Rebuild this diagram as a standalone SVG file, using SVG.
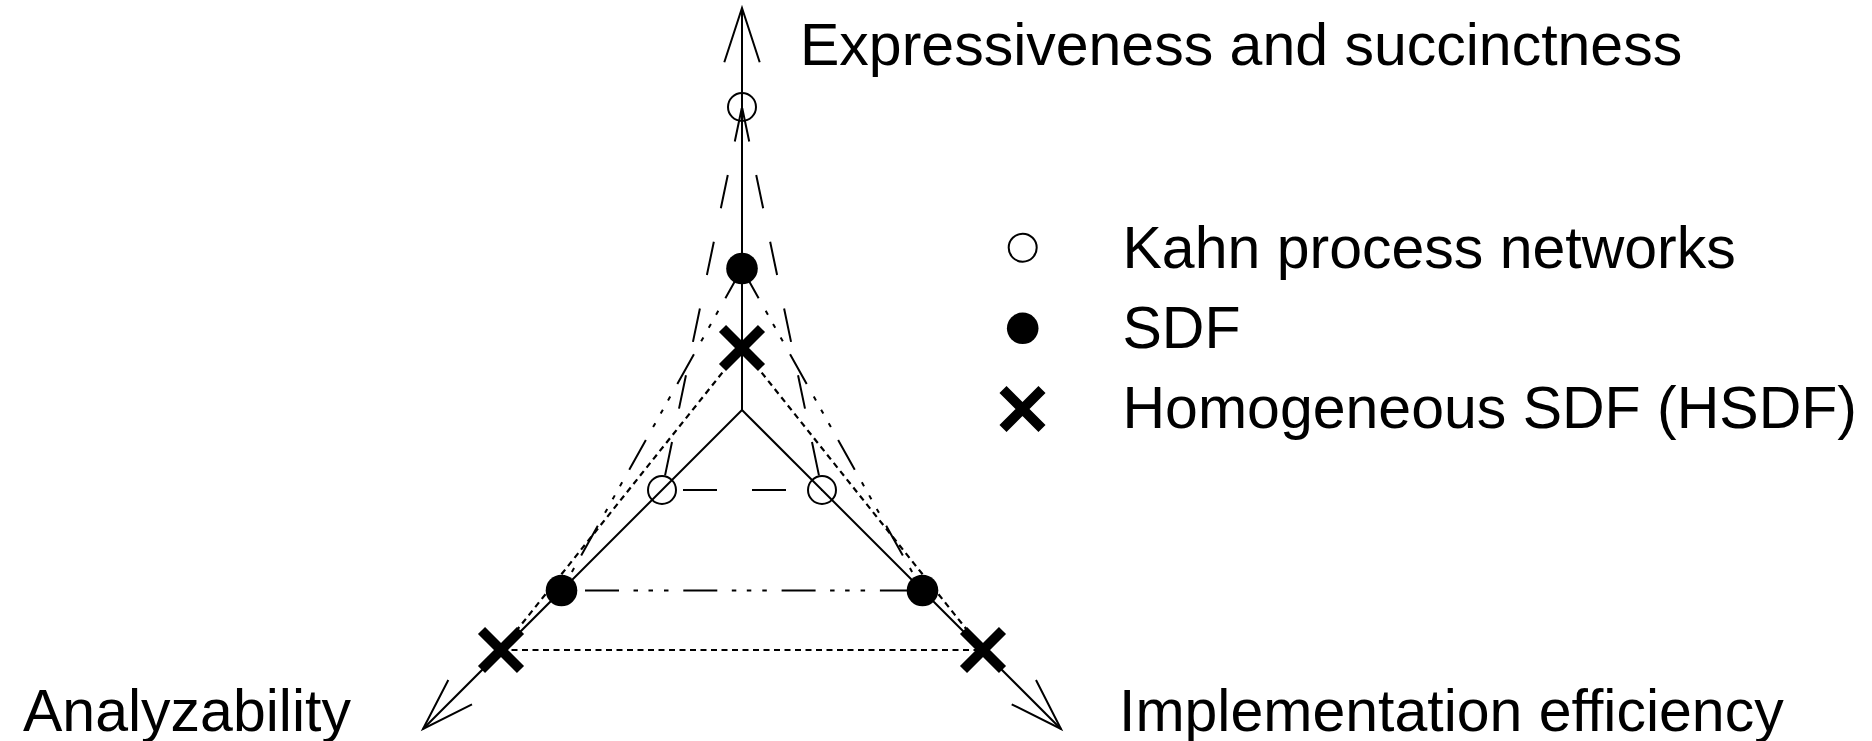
<svg xmlns="http://www.w3.org/2000/svg" width="1872" height="741" viewBox="0 0 1872 741">
<style>
.ax{stroke:#000;stroke-width:2;fill:none}
.kahn{stroke:#000;stroke-width:2;fill:none;stroke-dasharray:34 34.2}
.sdf{stroke:#000;stroke-width:2;fill:none;stroke-dasharray:34 14.5 4.5 10.5 4.5 11 4.5 14.8}
.hsdf{stroke:#000;stroke-width:2.2;fill:none;stroke-dasharray:6 4.5}
.oc{stroke:#000;stroke-width:2;fill:none}
.fc{fill:#000}
.xm{stroke:#000;stroke-width:10;stroke-linecap:butt;fill:none}
text{font-family:"Liberation Sans",Arial,sans-serif;font-size:59px;fill:#000}
</style>
<rect width="1872" height="741" fill="#fff"/>
<g id="axes">
<line class="ax" x1="742" y1="410" x2="742" y2="8"/>
<line class="ax" x1="742" y1="410" x2="423" y2="729"/>
<line class="ax" x1="742" y1="410" x2="1061" y2="729"/>
<polyline class="ax" points="724.3,62.3 742,8 759.7,62.3"/>
<polyline class="ax" points="448.3,680 423,729 472,704.3"/>
<polyline class="ax" points="1011.7,704.3 1061,729 1036,680"/>
</g>
<g id="connectors">
<line class="kahn" x1="742" y1="107" x2="662" y2="490" stroke-dashoffset="-1.3"/>
<line class="kahn" x1="742" y1="107" x2="822" y2="490" stroke-dashoffset="-1.3"/>
<line class="kahn" x1="662" y1="490" x2="822" y2="490" style="stroke-dasharray:34 35" stroke-dashoffset="-21"/>
<line class="sdf" x1="742" y1="268.5" x2="561.5" y2="590.5"/>
<line class="sdf" x1="742" y1="268.5" x2="922.5" y2="590.5"/>
<line class="sdf" x1="561.5" y1="590.5" x2="922.5" y2="590.5" stroke-dashoffset="-23.5"/>
<line class="hsdf" x1="742" y1="348" x2="501" y2="650"/>
<line class="hsdf" x1="742" y1="348" x2="983" y2="650"/>
<line class="hsdf" x1="501" y1="650" x2="983" y2="650"/>
</g>
<g id="kahn-points">
<circle class="oc" cx="742" cy="107" r="14"/>
<circle class="oc" cx="662" cy="490" r="14"/>
<circle class="oc" cx="822" cy="490" r="14"/>
</g>
<g id="sdf-points">
<circle class="fc" cx="742" cy="268.5" r="15.8"/>
<circle class="fc" cx="561.5" cy="590.5" r="15.8"/>
<circle class="fc" cx="922.5" cy="590.5" r="15.8"/>
</g>
<g id="hsdf-points">
<path class="xm" d="M722.5,328.5 L761.5,367.5 M722.5,367.5 L761.5,328.5"/>
<path class="xm" d="M481.5,630.5 L520.5,669.5 M481.5,669.5 L520.5,630.5"/>
<path class="xm" d="M963.5,630.5 L1002.5,669.5 M963.5,669.5 L1002.5,630.5"/>
</g>
<g id="axis-labels">
<text x="800" y="65">Expressiveness and succinctness</text>
<text x="23" y="731">Analyzability</text>
<text x="1119" y="731">Implementation efficiency</text>
</g>
<g id="legend">
<circle class="oc" cx="1022.7" cy="247.7" r="14"/>
<text x="1122.5" y="268.3">Kahn process networks</text>
<circle class="fc" cx="1022.7" cy="328.3" r="15.8"/>
<text x="1122.5" y="348.3">SDF</text>
<path class="xm" d="M1003,389.5 L1042,428.5 M1003,428.5 L1042,389.5"/>
<text x="1122.5" y="428.3">Homogeneous SDF (HSDF)</text>
</g>
</svg>
